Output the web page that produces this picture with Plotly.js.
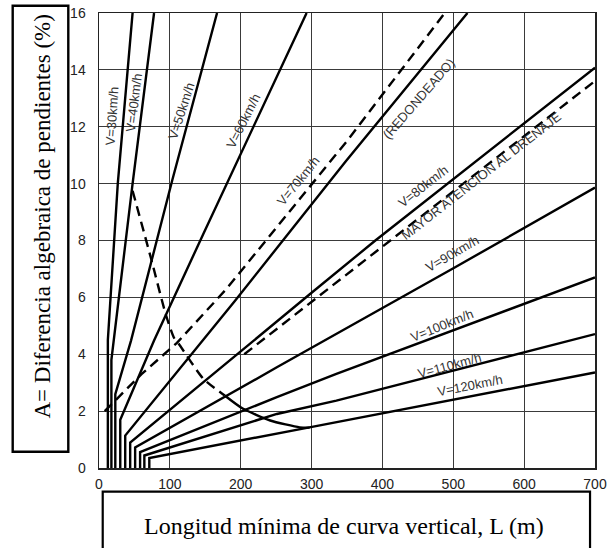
<!DOCTYPE html>
<html>
<head>
<meta charset="utf-8">
<script src="https://cdn.plot.ly/plotly-3.0.1.min.js"></script>
<style>html,body{margin:0;padding:0;background:#fff;}#chart{width:608px;height:548px;}</style>
</head>
<body>
<div id="chart"></div>
<script>
// Axis ticks
const xTicks = [0, 100, 200, 300, 400, 500, 600, 700];
const yTicks = [0, 2, 4, 6, 8, 10, 12, 14, 16];

// Speed lines: L (m) and A (%)
const L_v30 = [12.5, 12.5, 26.5, 47.4];          const A_v30 = [0, 4.5, 10, 16];
const L_v40 = [17.5, 17.5, 47.4, 77.7];          const A_v40 = [0, 3.8, 10, 16];
const L_v50 = [23, 23, 45.2, 103.2, 166.6];      const A_v50 = [0, 2.6, 4.48, 10.1, 16];
const L_v60 = [30, 30, 77.7, 147.2, 293];        const A_v60 = [0, 1.7, 4.48, 8.23, 16];
const L_v70 = [37, 37, 192, 348.6, 520];         const A_v70 = [0, 1.14, 5.88, 10.8, 16];
const L_v80 = [44, 44, 297, 390, 700];           const A_v80 = [0, 0.89, 6.1, 8.0, 14.08];
const L_v90 = [51, 51, 251, 502, 700];           const A_v90 = [0, 0.72, 3.54, 7.05, 9.86];
const L_v100 = [58, 58, 251, 335, 700];          const A_v100 = [0, 0.56, 2.49, 3.31, 6.70];
const L_v110 = [64, 64, 251, 335, 700];          const A_v110 = [0, 0.44, 1.90, 2.37, 4.71];
const L_v120 = [71, 71, 297, 700];               const A_v120 = [0, 0.35, 1.43, 3.36];

// Dashed lines
const L_upperDash = [8, 60, 110, 180, 350, 488];  const A_upperDash = [2.0, 3.3, 4.4, 6.3, 11.5, 16];
const L_drainDash = [205, 700];                   const A_drainDash = [4.0, 13.61];
const L_curveDash = [47.4, 73.1, 94.0, 105.6, 112.5, 147.2, 177.4];
const A_curveDash = [9.75, 7.40, 5.42, 4.59, 4.37, 3.14, 2.55];
const L_curveSolid = [177.4, 202.8, 241.7, 283.3, 297.2];
const A_curveSolid = [2.55, 2.09, 1.67, 1.43, 1.42];

// Labels
const labelText = ['V=30km/h','V=40km/h','V=50km/h','V=60km/h','V=70km/h','(REDONDEADO)','V=80km/h','MAYOR ATENCION AL DRENAJE','V=90km/h','V=100km/h','V=110km/h','V=120km/h'];
const labelL = [19.1, 49.8, 116.7, 204.2, 281.9, 451.7, 457.3, 540.3, 499.3, 483.9, 495.1, 523.9];
const labelA = [12.38, 12.84, 12.56, 12.21, 10.10, 12.98, 9.89, 10.27, 7.53, 5.01, 3.60, 2.90];
const labelAngle = [-86, -83, -72, -63, -51, -49, -38, -38, -30, -22, -15, -11];

const solid = {color:'#000', width:2.4};
const dashed = {color:'#000', width:2.4, dash:'10px,6px'};

const series = [
  [L_v30, A_v30, solid], [L_v40, A_v40, solid], [L_v50, A_v50, solid],
  [L_v60, A_v60, solid], [L_v70, A_v70, solid], [L_v80, A_v80, solid],
  [L_v90, A_v90, solid], [L_v100, A_v100, solid], [L_v110, A_v110, solid],
  [L_v120, A_v120, solid],
  [L_upperDash, A_upperDash, dashed], [L_drainDash, A_drainDash, dashed],
  [L_curveDash, A_curveDash, Object.assign({shape:'spline', smoothing:0.6}, dashed)],
  [L_curveSolid, A_curveSolid, Object.assign({shape:'spline', smoothing:0.6}, solid)]
];

const traces = series.map(s => ({
  type:'scatter', mode:'lines', x:s[0], y:s[1], line:s[2], hoverinfo:'skip'
}));

const labelFont = {family:'Liberation Sans, Arial, sans-serif', size:13, color:'#333'};
const annotations = labelText.map((t, i) => ({
  text:t, x:labelL[i], y:labelA[i], xref:'x', yref:'y', xanchor:'center', yanchor:'middle',
  showarrow:false, textangle:labelAngle[i], font:labelFont
}));

annotations.push({
  text:'A= Diferencia algebraica de pendientes (%)', xref:'paper', yref:'paper',
  x:-0.1129, y:0.5527, xanchor:'center', yanchor:'middle', showarrow:false, textangle:-90,
  font:{family:'Liberation Serif, Times New Roman, serif', size:23, color:'#000'}
});
annotations.push({
  text:'Longitud mínima de curva vertical, L (m)', xref:'paper', yref:'paper',
  x:0.494, y:-0.127, xanchor:'center', yanchor:'middle', showarrow:false,
  font:{family:'Liberation Serif, Times New Roman, serif', size:24, color:'#000'}
});

const shapes = [
  {type:'rect', xref:'paper', yref:'paper', x0:-0.174, x1:-0.0619, y0:0.0358, y1:1.016,
   line:{color:'#000', width:2.4}, fillcolor:'rgba(0,0,0,0)'},
  {type:'rect', xref:'paper', yref:'paper', x0:0.0075, x1:0.99, y0:-0.19, y1:-0.0521,
   line:{color:'#000', width:2.2}, fillcolor:'rgba(0,0,0,0)'}
];

const tickFont = {family:'Liberation Sans, Arial, sans-serif', size:14, color:'#222'};

const layout = {
  width:608, height:548,
  margin:{l:99, r:13, t:13, b:80},
  paper_bgcolor:'#fff', plot_bgcolor:'#fff',
  showlegend:false,
  xaxis:{range:[0,700], tickvals:xTicks, ticktext:xTicks.map(String), showgrid:true,
         gridcolor:'#3a3a3a', gridwidth:1.2, zeroline:false, showline:true, linecolor:'#222',
         linewidth:1.5, mirror:true, ticks:'', tickfont:tickFont, ticklabelstandoff:3, fixedrange:true},
  yaxis:{range:[0,16], tickvals:yTicks, ticktext:yTicks.map(String), showgrid:true,
         gridcolor:'#3a3a3a', gridwidth:1.2, zeroline:false, showline:true, linecolor:'#222',
         linewidth:1.5, mirror:true, ticks:'', tickfont:tickFont, ticklabelstandoff:9, fixedrange:true},
  annotations:annotations,
  shapes:shapes
};

Plotly.newPlot('chart', traces, layout, {displayModeBar:false, staticPlot:true});
</script>
</body>
</html>
